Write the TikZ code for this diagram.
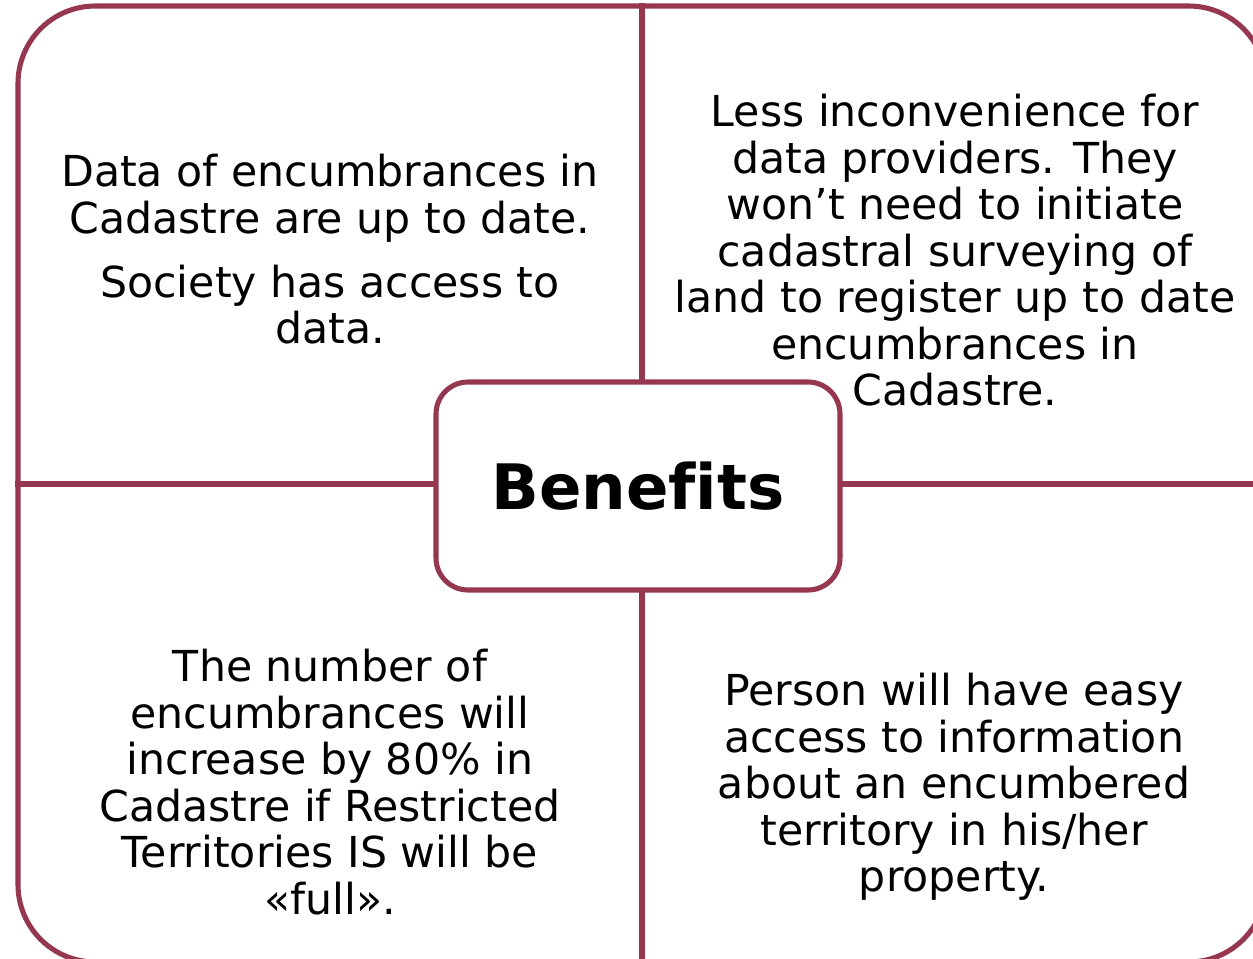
\documentclass[tikz,border=0pt]{standalone}
\usepackage{fontspec}
\setmainfont{DejaVu Sans}[Ligatures=NoCommon]
\usepackage{xcolor}
\definecolor{framered}{RGB}{150,55,80}

\begin{document}
\begin{tikzpicture}[x=0.75pt, y=-0.75pt]
\tikzstyle{framebox}=[rectangle, draw=framered, line width=3.8pt, rounded corners=58pt, inner sep=0pt]
\tikzstyle{centerbox}=[rectangle, draw=framered, fill=white, line width=3.8pt, rounded corners=24pt, inner sep=0pt]
\tikzstyle{divline}=[draw=framered, line width=3.8pt]
\tikzstyle{quadtext}=[align=center, inner sep=0pt, anchor=north, font=\fontsize{32pt}{34.9pt}\selectfont]

\useasboundingbox (0,0) rectangle (1253,959);
\clip (0,0) rectangle (1253,959);

\node[framebox, minimum width=936pt, minimum height=717pt] (frame) at (642,484) {};
\draw[divline] (frame.north) -- (frame.south);
\draw[divline] (frame.west) -- (frame.east);

\node[centerbox, minimum width=303pt, minimum height=156pt,
  font=\fontsize{47pt}{51pt}\selectfont\bfseries] (benefits) at (638,486) {Benefits};

\node[quadtext] (Q1) at (330,154) {Data of encumbrances in\\
  Cadastre are up to date.\\[13pt]
  Society has access to\\
  data.};
\node[quadtext] (Q2) at (955,94) {Less inconvenience for\\
  data providers. They\\
  won’t need to initiate\\
  cadastral surveying of\\
  land to register up to date\\
  encumbrances in\\
  Cadastre.};
\node[quadtext] (Q3) at (330,649) {The number of\\
  encumbrances will\\
  increase by 80\% in\\
  Cadastre if Restricted\\
  Territories IS will be\\
  «full».};
\node[quadtext] (Q4) at (954,673) {Person will have easy\\
  access to information\\
  about an encumbered\\
  territory in his/her\\
  property.};
\end{tikzpicture}
\end{document}
